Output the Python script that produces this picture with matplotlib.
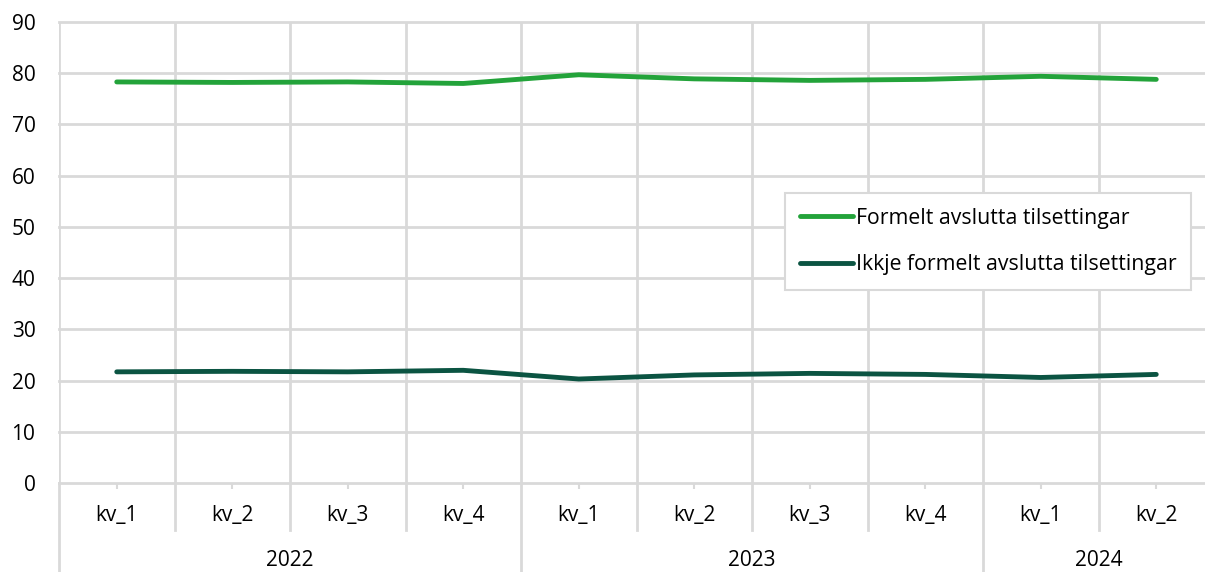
import matplotlib
matplotlib.use("Agg")
import matplotlib.pyplot as plt
import matplotlib.transforms as mtransforms

plt.rcParams['font.family'] = ['Open Sans', 'DejaVu Sans']

quarters = ["kv_1", "kv_2", "kv_3", "kv_4", "kv_1", "kv_2", "kv_3", "kv_4", "kv_1", "kv_2"]
years = ["2022", "2023", "2024"]
year_counts = [4, 4, 2]
formelt = [78.3, 78.2, 78.3, 78.0, 79.7, 78.9, 78.6, 78.8, 79.4, 78.8]
ikkje = [21.7, 21.8, 21.7, 22.0, 20.3, 21.1, 21.4, 21.2, 20.6, 21.2]
series_names = ["Formelt avslutta tilsettingar", "Ikkje formelt avslutta tilsettingar"]
colors = ["#23A33A", "#0B5442"]
grid_c = "#D9D9D9"

fig = plt.figure(figsize=(12.05, 5.72), dpi=100)
W, H = 1205, 572
left, right_px = 59, 59 + 10 * 115.5
y0_px, y90_px = 483, 22
ax = fig.add_axes([left / W, 1 - y0_px / H, (right_px - left) / W, (y0_px - y90_px) / H])
n = len(quarters)
ax.set_xlim(0, n)
ax.set_ylim(0, 90)
for s in ax.spines.values():
    s.set_visible(False)

for y in range(0, 91, 10):
    ax.axhline(y, color=grid_c, lw=2, zorder=1, clip_on=False)
for x in range(0, n + 1):
    ax.axvline(x, color=grid_c, lw=2, zorder=1)

xs = [i + 0.5 for i in range(n)]
ax.plot(xs, formelt, color=colors[0], lw=3.5, solid_capstyle='round', label=series_names[0], zorder=3)
ax.plot(xs, ikkje, color=colors[1], lw=3.5, solid_capstyle='round', label=series_names[1], zorder=3)

fs = 15
ax.set_yticks(range(0, 91, 10))
ax.tick_params(axis='y', length=0, pad=17, labelsize=fs, labelcolor='#000000')
ax.set_xticks(xs)
ax.set_xticklabels([])
ax.tick_params(axis='x', length=4, width=1.5, color=grid_c)

tr = mtransforms.blended_transform_factory(ax.transData, ax.transAxes)
ax_h = y0_px - y90_px
cat_bottom = -(530 - y0_px) / ax_h
year_bottom = -(H - y0_px) / ax_h - 0.01
cat_label_y = -(516 - y0_px) / ax_h
year_label_y = -(561 - y0_px) / ax_h

for i, q in enumerate(quarters):
    ax.text(i + 0.5, cat_label_y, q, transform=tr, ha='center', va='center', fontsize=fs)

boundaries = [0]
for c in year_counts:
    boundaries.append(boundaries[-1] + c)
for x in range(0, n + 1):
    if x in boundaries:
        ax.plot([x, x], [0, year_bottom], transform=tr, color=grid_c, lw=2, clip_on=False)
    else:
        ax.plot([x, x], [0, cat_bottom], transform=tr, color=grid_c, lw=2, clip_on=False)
for k, yr in enumerate(years):
    mid = (boundaries[k] + boundaries[k + 1]) / 2
    ax.text(mid, year_label_y, yr, transform=tr, ha='center', va='center', fontsize=fs)

ax_w = right_px - left
leg = ax.legend(loc='upper left', bbox_to_anchor=((785 - left) / ax_w, (y0_px - 193) / ax_h),
                borderaxespad=0, frameon=True, fancybox=False, framealpha=1,
                edgecolor=grid_c, fontsize=15.3, handlelength=2.5, handletextpad=0.12,
                labelspacing=1.2, borderpad=0.7)
leg.get_frame().set_linewidth(1.5)
leg.set_zorder(5)

fig.savefig("out.png", dpi=100)
